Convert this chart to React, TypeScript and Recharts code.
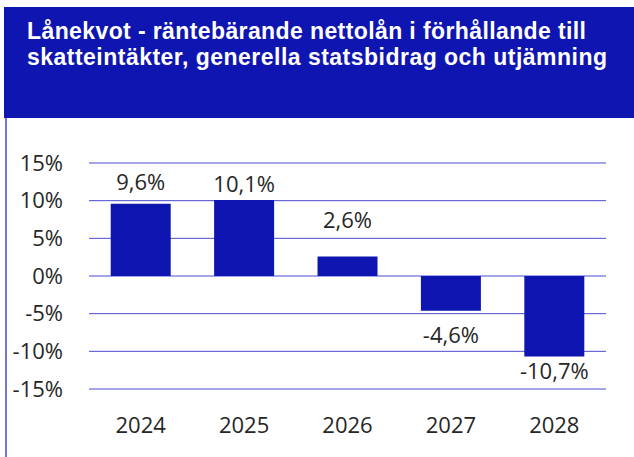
import React from 'react';
import { BarChart, Bar, XAxis, YAxis, CartesianGrid, LabelList } from 'recharts';

const TITLE_LINE_1 = 'Lånekvot - räntebärande nettolån i förhållande till';
const TITLE_LINE_2 = 'skatteintäkter, generella statsbidrag och utjämning';

const years = ['2024', '2025', '2026', '2027', '2028'];
const lanekvot = [9.6, 10.1, 2.6, -4.6, -10.7];
const yTicks = [-15, -10, -5, 0, 5, 10, 15];

const data = years.map((year, i) => ({ year, value: lanekvot[i] }));

const BLUE = '#0f15b0';
const GRID = '#4a4ad2';
const TEXT = '#262626';
const FONT = '"Open Sans", sans-serif';
const LABEL_NUDGE = [21, 16, 36, 25, 15];

const fmt = (v: number) => `${v.toString().replace('.', ',')}%`;

const renderLabel = (props: any) => {
  const { x, y, width, height, value, index } = props;
  const top = Math.min(y, y + height);
  const bottom = Math.max(y, y + height);
  const nudge = LABEL_NUDGE[index] ?? 18;
  const cy = value >= 0 ? top - nudge : bottom + nudge;
  return (
    <text
      x={x + width / 2}
      y={cy}
      dy="0.355em"
      textAnchor="middle"
      fill={TEXT}
      fontFamily={FONT}
      fontSize={22}
    >
      {fmt(value)}
    </text>
  );
};

export default function App() {
  return (
    <div style={{ position: 'absolute', left: 0, top: 0, width: 634, height: 457, background: '#fff' }}>
      <div
        style={{
          position: 'absolute',
          left: 5,
          top: 110,
          width: 2,
          height: 347,
          background: '#7474d6',
        }}
      />
      <svg
        width={630}
        height={111}
        style={{ position: 'absolute', left: 4, top: 7, display: 'block' }}
      >
        <rect x={0} y={0} width={630} height={111} fill={BLUE} />
        <g fill="#fff" fontFamily='"Liberation Sans", Arial, sans-serif' fontWeight="bold" fontSize={23}>
          <text x={23} y={32.3} textLength={559} lengthAdjust="spacing">
            {TITLE_LINE_1}
          </text>
          <text x={23} y={58} textLength={580} lengthAdjust="spacing">
            {TITLE_LINE_2}
          </text>
        </g>
      </svg>
      <div style={{ position: 'absolute', left: 0, top: 0 }}>
        <BarChart
          width={634}
          height={457}
          data={data}
          margin={{ top: 163, right: 28, bottom: 8, left: 0 }}
          barCategoryGap="21%"
        >
          <CartesianGrid horizontal vertical={false} stroke={GRID} strokeWidth={1} />
          <XAxis
            dataKey="year"
            axisLine={false}
            tickLine={false}
            tickSize={0}
            tickMargin={28}
            height={60}
            interval={0}
            tick={{ fill: TEXT, fontFamily: FONT, fontSize: 22 }}
          />
          <YAxis
            type="number"
            domain={[-15, 15]}
            ticks={yTicks}
            axisLine={false}
            tickLine={false}
            tickSize={0}
            tickMargin={26}
            width={89}
            tickFormatter={(v: number) => `${v}%`}
            tick={{ fill: TEXT, fontFamily: FONT, fontSize: 22 }}
          />
          <Bar dataKey="value" fill={BLUE} isAnimationActive={false}>
            <LabelList dataKey="value" content={renderLabel} />
          </Bar>
        </BarChart>
      </div>
    </div>
  );
}
